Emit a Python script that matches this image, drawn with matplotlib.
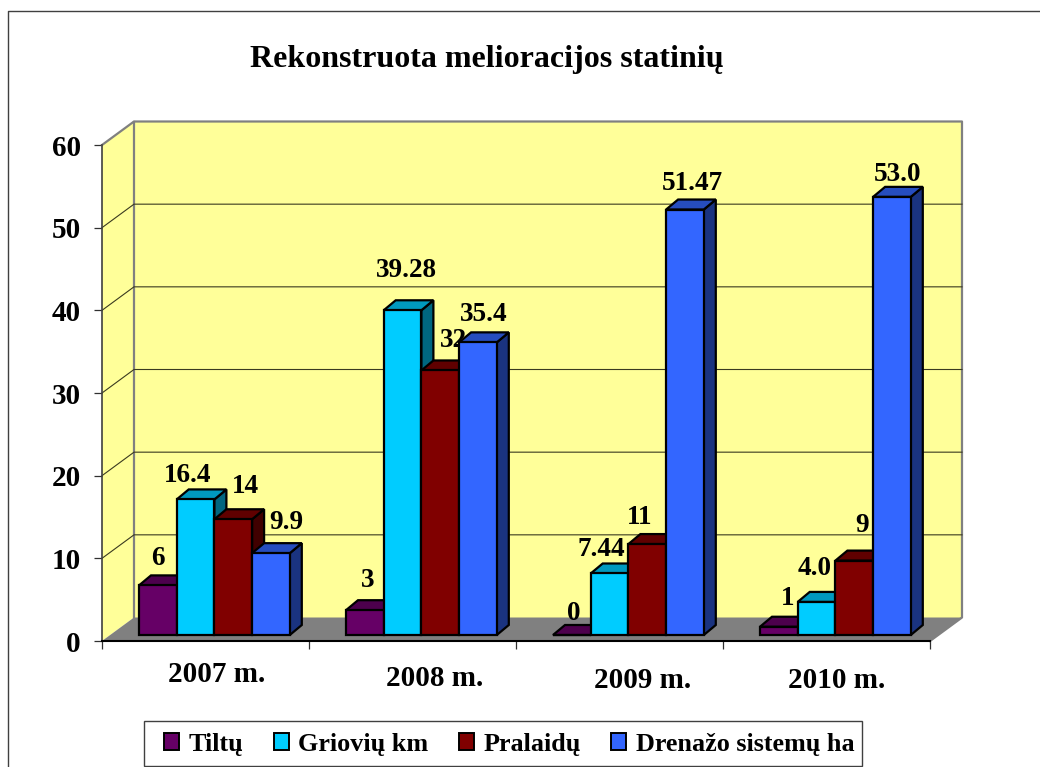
import matplotlib
matplotlib.use("Agg")
import matplotlib.pyplot as plt
from matplotlib.patches import Polygon, Patch, Rectangle
from matplotlib.lines import Line2D
from matplotlib.colors import to_rgb
from matplotlib.transforms import ScaledTranslation

plt.rcParams['font.family'] = ['Liberation Serif', 'DejaVu Serif']
plt.rcParams['font.weight'] = 'bold'

title = "Rekonstruota melioracijos statinių"
years = ["2007 m.", "2008 m.", "2009 m.", "2010 m."]
tiltu = [6, 3, 0, 1]
grioviu = [16.4, 39.28, 7.44, 4.0]
pralaidu = [14, 32, 11, 9]
drenazo = [9.9, 35.4, 51.47, 53.0]
tiltu_labels = ["6", "3", "0", "1"]
grioviu_labels = ["16.4", "39.28", "7.44", "4.0"]
pralaidu_labels = ["14", "32", "11", "9"]
drenazo_labels = ["9.9", "35.4", "51.47", "53.0"]
yticks = [0, 10, 20, 30, 40, 50, 60]

series = [("Tiltų", tiltu, tiltu_labels, "#660066"),
          ("Griovių km", grioviu, grioviu_labels, "#00CCFF"),
          ("Pralaidų", pralaidu, pralaidu_labels, "#800000"),
          ("Drenažo sistemų ha", drenazo, drenazo_labels, "#3366FF")]

# label offsets from bar top centre, pixels [series][category]
label_off = [[(0, 27), (3, 30), (2, 22), (9, 28)],
             [(-8, 24), (4, 40), (-8, 24), (-2, 33)],
             [(12, 33), (13, 30), (-8, 27), (8, 35)],
             [(15, 31), (6, 28), (7, 26), (6, 22)]]
cat_off = [(11.5, -32), (22.5, -37), (23.5, -39), (10, -39)]

W, H = 1040, 767
fig = plt.figure(figsize=(W / 100, H / 100), dpi=100, facecolor="white")
L, R, T, B = 102, 930, 145, 641
ax = fig.add_axes([L / W, 1 - B / H, (R - L) / W, (B - T) / H])
ax.set_xlim(0, 4)
ax.set_ylim(0, 60)
ax.patch.set_visible(False)
PX = 4 / (R - L)
PY = 60 / (B - T)
DX, DY = 32 * PX, 23.5 * PY      # chart depth
BX, BY = 12 * PX, 10 * PY        # bar depth
GY = 6 * PY                      # bars baseline shift into the floor

GREY = "#808080"
# walls and floor
ax.add_patch(Polygon([(0, 0), (DX, DY), (DX, 60 + DY), (0, 60)], closed=True, fc="#FFFF99", ec="none", zorder=1, clip_on=False))
ax.add_patch(Polygon([(DX, DY), (4 + DX, DY), (4 + DX, 60 + DY), (DX, 60 + DY)], closed=True, fc="#FFFF99", ec="none", zorder=1, clip_on=False))
ax.add_patch(Polygon([(0, 0), (4, 0), (4 + DX, DY), (DX, DY)], closed=True, fc=GREY, ec="none", zorder=1, clip_on=False))
ax.plot([0, DX, 4 + DX, 4 + DX, 4], [60, 60 + DY, 60 + DY, DY, 0], color=GREY, lw=1.6, zorder=2, clip_on=False)
ax.plot([DX, DX], [DY, 60 + DY], color=GREY, lw=1.6, zorder=2, clip_on=False)
for v in yticks[1:-1]:
    ax.plot([0, DX, 4 + DX], [v, v + DY, v + DY], color="#3a3a20", lw=0.8, zorder=2, clip_on=False)


def shade(c, f):
    return tuple(x * f for x in to_rgb(c))


bar_w = 37.7 * PX
start = 37 * PX
z = 3
for i in range(len(years)):
    for j, (name, vals, labs, col) in enumerate(series):
        v = vals[i]
        x0 = i + start + j * bar_w
        x1 = x0 + bar_w
        y0 = GY
        y1 = GY + v
        kw = dict(closed=True, ec="black", lw=1.6, joinstyle="miter", clip_on=False, zorder=z)
        ax.add_patch(Polygon([(x1, y0), (x1 + BX, y0 + BY), (x1 + BX, y1 + BY), (x1, y1)], fc=shade(col, 0.5), **kw))
        ax.add_patch(Polygon([(x0, y1), (x1, y1), (x1 + BX, y1 + BY), (x0 + BX, y1 + BY)], fc=shade(col, 0.75), **kw))
        ax.add_patch(Polygon([(x0, y0), (x1, y0), (x1, y1), (x0, y1)], fc=col, **kw))
        ax.annotate(labs[i], xy=((x0 + x1) / 2, y1), xytext=label_off[j][i], textcoords="offset pixels",
                    ha="center", va="center", fontsize=19.5, color="black", zorder=z + 0.5,
                    annotation_clip=False)
        z += 1

# axes
for s in ("top", "right"):
    ax.spines[s].set_visible(False)
ax.spines["left"].set_color("#404040")
ax.spines["left"].set_linewidth(1.2)
ax.spines["left"].set_zorder(200)
ax.spines["bottom"].set_color("black")
ax.spines["bottom"].set_linewidth(1.5)
ax.spines["bottom"].set_zorder(200)
ax.set_yticks(yticks)
ax.set_yticklabels([str(v) for v in yticks], fontsize=21, fontweight="bold")
lift = ScaledTranslation(0, 2 / 100, fig.dpi_scale_trans)
for t in ax.get_yticklabels():
    t.set_transform(t.get_transform() + lift)
ax.set_xticks(range(len(years) + 1))
ax.set_xticklabels([])
ax.tick_params(axis="y", direction="out", length=5.8, width=0.9, pad=9.5, color="#303030")
ax.tick_params(axis="x", direction="out", length=5.8, width=0.9, color="#303030")

for i, lab in enumerate(years):
    ax.annotate(lab, xy=(i + 0.5, 0), xytext=(cat_off[i][0], cat_off[i][1] - 1), textcoords="offset pixels",
                ha="center", va="center", fontsize=21, annotation_clip=False)

fig.text(487 / W, 1 - 60 / H, title, ha="center", va="center", fontsize=23)

# outer frame
fig.add_artist(Line2D([7.5 / W, 7.5 / W, 1], [0, 1 - 11 / H, 1 - 11 / H], color="#404040", lw=1.0))

# legend box
fig.add_artist(Rectangle((144 / W, 1 - 766 / H), 718 / W, 45 / H, transform=fig.transFigure,
                         fc="white", ec="#404040", lw=1.0))
handles = [Patch(fc=c, ec="black", lw=1.4, label=n) for n, _, _, c in series]
leg = fig.legend(handles=handles, ncols=4, loc="center", bbox_to_anchor=(509 / W, 1 - 744 / H),
                 fontsize=18.8, frameon=False,
                 handlelength=0.57, handleheight=0.6, handletextpad=0.36, columnspacing=1.18,
                 borderpad=0, borderaxespad=0)
leg.set_zorder(50)

fig.savefig("out.png", dpi=100)
